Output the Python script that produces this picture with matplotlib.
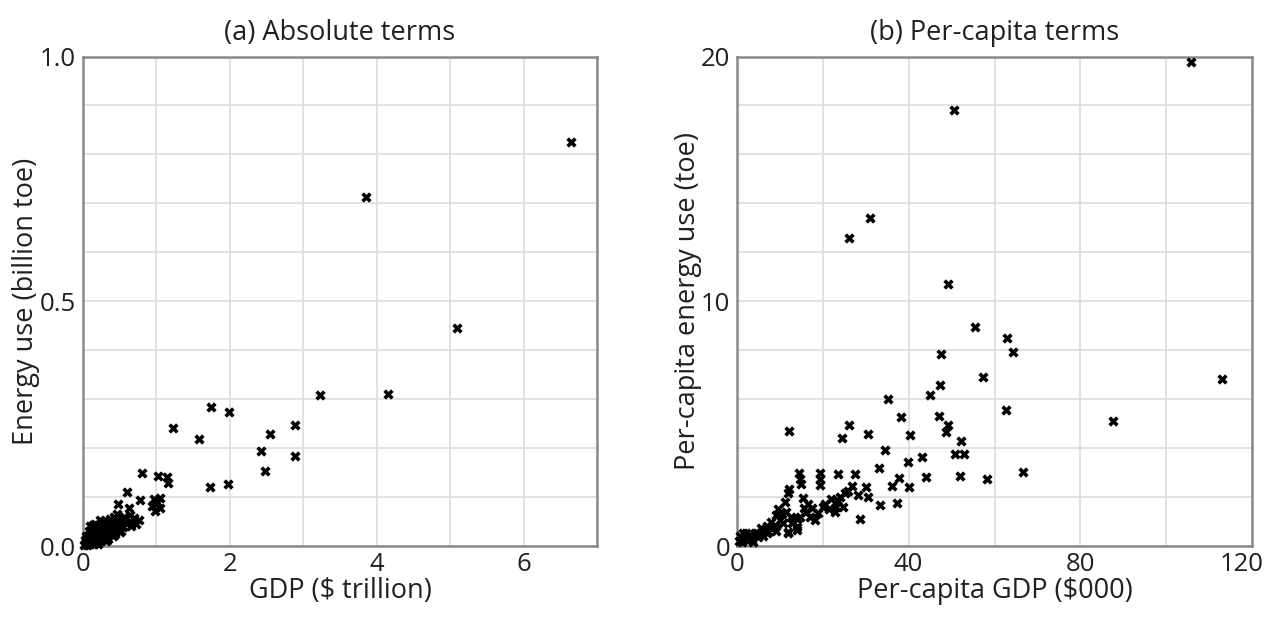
import matplotlib
matplotlib.use("Agg")
import matplotlib.pyplot as plt
from matplotlib.ticker import MultipleLocator
from matplotlib.transforms import ScaledTranslation

plt.rcParams['font.family'] = ['Open Sans', 'DejaVu Sans']

# (a) Absolute terms: GDP ($ trillion) vs energy use (billion toe)
gdp_abs = [6.64, 3.86, 5.10, 4.16, 3.23, 2.89, 2.89, 2.55, 2.42, 2.48, 1.74, 1.99, 1.58, 1.22,
           1.73, 1.97, 0.81, 1.02, 1.14, 1.16, 0.60, 0.78, 0.48, 0.63, 0.97, 1.05, 1.01, 0.94,
           1.05, 1.00, 0.98, 0.76, 0.64, 0.42, 0.23, 0.53, 0.51,
           0.30, 0.35, 0.28, 0.40, 0.45, 0.38, 0.33, 0.25, 0.20, 0.22, 0.18, 0.15, 0.12, 0.10,
           0.08, 0.06, 0.05, 0.04, 0.03, 0.02, 0.07, 0.09, 0.11, 0.13, 0.14, 0.16, 0.17, 0.19,
           0.21, 0.24, 0.26, 0.29, 0.31, 0.34, 0.36, 0.39, 0.42, 0.44, 0.47, 0.50, 0.55, 0.58,
           0.62, 0.66, 0.70, 0.72, 0.56, 0.46, 0.37, 0.27, 0.05, 0.08, 0.10, 0.15, 0.06, 0.12,
           0.17, 0.20, 0.03, 0.04, 0.09, 0.14, 0.23, 0.32, 0.41, 0.52]
energy_abs = [0.826, 0.713, 0.445, 0.310, 0.308, 0.247, 0.184, 0.229, 0.194, 0.153, 0.284, 0.274,
              0.219, 0.241, 0.120, 0.127, 0.150, 0.143, 0.140, 0.129, 0.110, 0.094, 0.085, 0.077,
              0.097, 0.099, 0.090, 0.082, 0.078, 0.085, 0.072, 0.053, 0.063, 0.060, 0.053, 0.053,
              0.029,
              0.045, 0.040, 0.035, 0.048, 0.050, 0.030, 0.025, 0.030, 0.025, 0.040, 0.035, 0.030,
              0.020, 0.025, 0.015, 0.010, 0.005, 0.008, 0.004, 0.003, 0.020, 0.008, 0.012, 0.008,
              0.018, 0.012, 0.022, 0.015, 0.010, 0.018, 0.022, 0.020, 0.030, 0.015, 0.032, 0.040,
              0.035, 0.025, 0.040, 0.045, 0.038, 0.048, 0.050, 0.040, 0.058, 0.045, 0.060, 0.065,
              0.055, 0.050, 0.018, 0.030, 0.005, 0.005, 0.003, 0.035, 0.045, 0.005, 0.012, 0.020,
              0.040, 0.042, 0.012, 0.010, 0.020, 0.030]

# (b) Per-capita terms: per-capita GDP ($000) vs per-capita energy use (toe)
gdp_pc = [105.8, 50.5, 30.9, 26.0, 49.2, 55.5, 63.0, 64.2, 47.5, 57.3, 113.0, 47.2, 45.0, 35.1,
          62.7, 87.5, 47.1, 38.2, 49.2, 48.7, 26.1, 24.5, 30.6, 40.3, 12.2, 52.1, 50.8, 52.9,
          34.4, 43.0, 39.8, 33.2, 52.0, 58.2, 66.7, 44.0, 37.7, 36.0, 40.0, 33.3, 37.3, 28.6,
          27.4, 23.5, 19.3, 19.3, 19.3, 14.5, 14.6, 15.0, 12.2, 11.9, 11.2, 26.7, 25.9, 25.1,
          24.0, 28.2, 30.0, 30.5, 23.6, 24.7, 22.8, 20.1, 18.9, 18.1, 17.4, 15.4, 15.6, 14.6,
          13.9, 11.9, 9.2, 10.0, 10.8, 8.1, 5.7, 6.9, 4.6, 3.0, 1.5, 1.5, 3.8,
          12.7, 13.9, 11.9, 8.8, 7.3, 4.2, 1.9, 1.1, 3.4, 2.5, 0.8, 6.0, 9.5, 10.5, 12.5, 11.5,
          13.0, 14.0, 16.5, 17.0, 16.0, 20.5, 21.5, 23.0, 8.0, 9.0, 7.0, 5.0, 2.0, 0.5, 6.3, 22.0]
energy_pc = [19.79, 17.82, 13.39, 12.57, 10.72, 8.96, 8.48, 7.94, 7.86, 6.91, 6.84, 6.59, 6.18,
             6.02, 5.57, 5.10, 5.30, 5.26, 4.93, 4.67, 4.94, 4.40, 4.58, 4.52, 4.70, 4.29, 3.76,
             3.75, 3.91, 3.64, 3.45, 3.20, 2.88, 2.75, 3.03, 2.80, 2.78, 2.45, 2.40, 1.66, 1.77,
             1.09, 2.93, 2.94, 2.97, 2.75, 2.49, 2.97, 2.72, 2.52, 2.33, 2.15, 1.81, 2.45, 2.25,
             2.15, 2.02, 2.08, 2.40, 2.02, 1.85, 1.61, 1.40, 1.61, 1.34, 1.06, 1.54, 1.95, 1.54,
             1.20, 0.79, 0.52, 1.27, 1.06, 0.93, 0.79, 0.72, 0.52, 0.52, 0.45, 0.52, 0.25, 0.18,
             0.93, 0.65, 0.59, 0.79, 0.59, 0.52, 0.38, 0.18, 0.25, 0.35, 0.40, 0.40, 1.50, 1.30,
             1.20, 1.40, 1.00, 1.10, 1.70, 1.20, 1.40, 1.70, 1.50, 1.60, 1.00, 0.60, 0.80, 0.35,
             0.55, 0.20, 0.60, 1.90]

titles = ["(a) Absolute terms", "(b) Per-capita terms"]
xlabels = ["GDP ($ trillion)", "Per-capita GDP ($000)"]
ylabels = ["Energy use (billion toe)", "Per-capita energy use (toe)"]

TEXT = '#231f20'
SPINE = '#8a8a8a'
GRID = '#dcdcdc'
FS = 19.5
TFS = 18.5

fig = plt.figure(figsize=(12.67, 6.19), dpi=100)
ax1 = fig.add_axes([83 / 1267, 73 / 619, 514 / 1267, 489.5 / 619])
ax2 = fig.add_axes([737 / 1267, 73 / 619, 515 / 1267, 489.5 / 619])


def style(ax, xmax, ymax, xmaj, ymaj, xmin, ymin, yfmt, title, xl, yl, ylpad):
    ax.set_xlim(0, xmax)
    ax.set_ylim(0, ymax)
    ax.xaxis.set_major_locator(MultipleLocator(xmaj))
    ax.yaxis.set_major_locator(MultipleLocator(ymaj))
    ax.xaxis.set_minor_locator(MultipleLocator(xmin))
    ax.yaxis.set_minor_locator(MultipleLocator(ymin))
    ax.grid(True, which='both', color=GRID, linewidth=1.2, zorder=0)
    ax.set_axisbelow(True)
    ax.tick_params(which='both', length=0, labelsize=TFS, colors=TEXT)
    ax.tick_params(axis='x', pad=4)
    ax.tick_params(axis='y', pad=5)
    ax.yaxis.set_major_formatter(yfmt)
    for s in ax.spines.values():
        s.set_color(SPINE)
        s.set_linewidth(1.8)
    ax.set_title(title, fontsize=FS, color=TEXT, pad=12)
    ax.set_xlabel(xl, fontsize=FS, color=TEXT, labelpad=0)
    ax.set_ylabel(yl, fontsize=FS, color=TEXT, labelpad=ylpad)


style(ax1, 7, 1.0, 2, 0.5, 1, 0.1, '{x:.1f}', titles[0], xlabels[0], ylabels[0], 0)
style(ax2, 120, 20, 40, 10, 20, 2, '{x:.0f}', titles[1], xlabels[1], ylabels[1], -1)

ax1.scatter(gdp_abs, energy_abs, marker='X', s=55, color='black', linewidths=0, zorder=3, clip_on=False)
ax2.scatter(gdp_pc, energy_pc, marker='X', s=55, color='black', linewidths=0, zorder=3, clip_on=False)

fig.canvas.draw()
for lab in ax2.get_xticklabels():
    if lab.get_text() == '120':
        lab.set_transform(lab.get_transform() + ScaledTranslation(-10 / 100, 0, fig.dpi_scale_trans))

fig.savefig('out.png', dpi=100)
